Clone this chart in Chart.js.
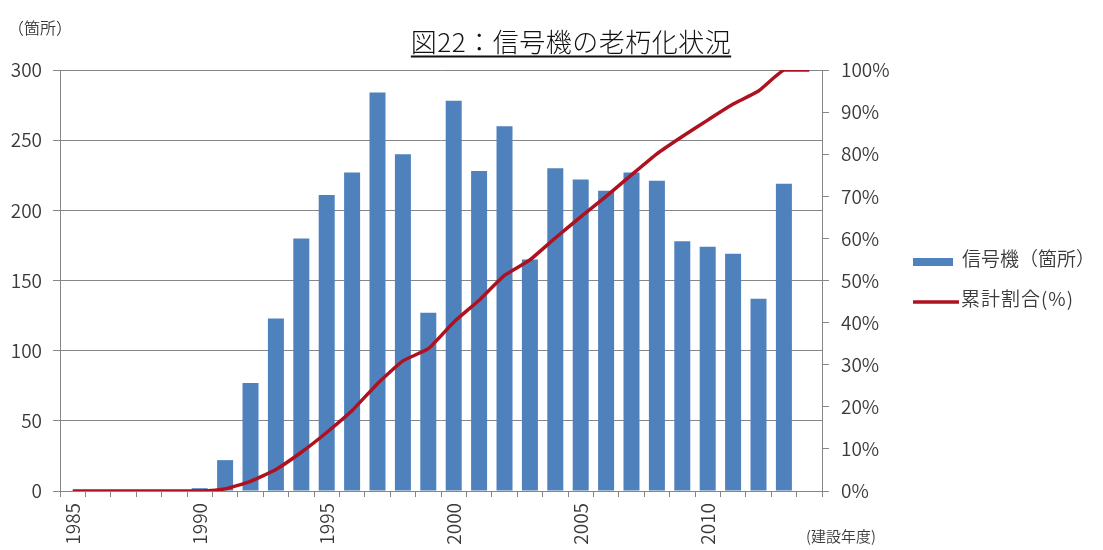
<!DOCTYPE html>
<html lang="ja">
<head>
<meta charset="utf-8">
<title>図22：信号機の老朽化状況</title>
<script src="https://cdn.jsdelivr.net/npm/chart.js@4.4.1/dist/chart.umd.min.js"></script>
<style>
  html, body { margin: 0; padding: 0; background: #fff; }
  #wrap { width: 1103px; height: 550px; position: relative; }
</style>
</head>
<body>
<div id="wrap"><canvas id="signalChart" width="1103" height="550"></canvas></div>
<script>
// 建設年度ごとの信号機設置数と累計割合
const years = [
  "1985", "1986", "1987", "1988", "1989", "1990", "1991", "1992", "1993", "1994",
  "1995", "1996", "1997", "1998", "1999", "2000", "2001", "2002", "2003", "2004",
  "2005", "2006", "2007", "2008", "2009", "2010", "2011", "2012", "2013", "2014"
];
const signalCounts = [
  0, 0, 0, 0, 0, 2, 22, 77, 123, 180,
  211, 227, 284, 240, 127, 278, 228, 260, 165, 230,
  222, 214, 227, 221, 178, 174, 169, 137, 219, null
];
const cumulativePct = [
  0, 0, 0, 0, 0, 0, 0.5, 2.3, 5.1, 9.2,
  13.9, 19.1, 25.5, 30.9, 33.8, 40.1, 45.3, 51.2, 54.9, 60.1,
  65.1, 70.0, 75.1, 80.1, 84.2, 88.1, 91.9, 95.0, 100, 100
];
const countTicks = [0, 50, 100, 150, 200, 250, 300];
const pctTicks = [0, 10, 20, 30, 40, 50, 60, 70, 80, 90, 100];

const BAR_COLOR = "#4F81BD";
const LINE_COLOR = "#AE1220";
const AXIS_COLOR = "#868686";
const TEXT_COLOR = "#3a3a3a";
const FONT = "'Noto Sans CJK JP', 'Noto Sans', sans-serif";

// タイトル・単位・凡例をキャンバスに直接描く
const decorations = {
  id: "decorations",
  afterDraw(chart) {
    const ctx = chart.ctx;
    ctx.save();

    // タイトル（下線付き）
    ctx.fillStyle = "#111";
    ctx.font = "300 26px " + FONT;
    ctx.letterSpacing = "0.5px";
    ctx.textAlign = "center";
    ctx.textBaseline = "alphabetic";
    const title = "図22：信号機の老朽化状況";
    const tx = 571;
    ctx.fillText(title, tx, 52);
    const tw = ctx.measureText(title).width;
    ctx.fillRect(tx - tw / 2, 55.5, tw, 2);
    ctx.letterSpacing = "0px";

    // 単位
    ctx.fillStyle = TEXT_COLOR;
    ctx.font = "350 16px " + FONT;
    ctx.textAlign = "left";
    ctx.textBaseline = "middle";
    ctx.fillText("（箇所）", 8, 28);
    ctx.font = "350 15px " + FONT;
    ctx.fillText("(建設年度)", 806, 536);

    // 凡例
    const bars = chart.data.datasets[1];
    const line = chart.data.datasets[0];
    ctx.fillStyle = bars.backgroundColor;
    ctx.fillRect(913, 258, 40, 8);
    ctx.strokeStyle = line.borderColor;
    ctx.lineWidth = 3.5;
    ctx.beginPath();
    ctx.moveTo(913, 302);
    ctx.lineTo(959, 302);
    ctx.stroke();
    ctx.fillStyle = TEXT_COLOR;
    ctx.font = "350 19px " + FONT;
    ctx.fillText(bars.label, 962, 259);
    ctx.letterSpacing = "1px";
    ctx.fillText(line.label, 961, 299);

    ctx.restore();
  }
};

const ctx = document.getElementById("signalChart").getContext("2d");

new Chart(ctx, {
  type: "bar",
  data: {
    labels: years,
    datasets: [
      {
        type: "line",
        label: "累計割合(%)",
        data: cumulativePct,
        yAxisID: "yPct",
        borderColor: LINE_COLOR,
        backgroundColor: LINE_COLOR,
        borderWidth: 3.5,
        pointRadius: 0,
        tension: 0.15,
        order: 1,
      },
      {
        type: "bar",
        label: "信号機（箇所）",
        data: signalCounts,
        yAxisID: "yCount",
        backgroundColor: BAR_COLOR,
        categoryPercentage: 1.0,
        barPercentage: 0.63,
        order: 2,
      },
    ],
  },
  options: {
    responsive: false,
    animation: false,
    layout: {
      padding: { top: 70, left: 0, right: 0, bottom: 0 },
    },
    plugins: {
      legend: { display: false },
      title: { display: false },
      tooltip: { enabled: false },
    },
    scales: {
      x: {
        offset: true,
        grid: {
          offset: true,
          drawOnChartArea: false,
          color: AXIS_COLOR,
          tickLength: 6,
        },
        border: { color: AXIS_COLOR },
        ticks: {
          autoSkip: false,
          minRotation: 90,
          maxRotation: 90,
          padding: 6,
          color: TEXT_COLOR,
          font: { family: FONT, size: 19, weight: 350 },
          callback(value) {
            const y = years[value];
            return Number(y) % 5 === 0 ? y : "";
          },
        },
        afterFit(scale) { scale.height = 59; },
      },
      yCount: {
        position: "left",
        min: 0,
        max: 300,
        afterBuildTicks(scale) {
          scale.ticks = countTicks.map(v => ({ value: v }));
        },
        grid: {
          color: AXIS_COLOR,
          tickLength: 7,
        },
        border: { color: AXIS_COLOR },
        ticks: {
          padding: 11,
          color: TEXT_COLOR,
          font: { family: FONT, size: 19, weight: 350 },
        },
        afterFit(scale) { scale.width = 60; },
      },
      yPct: {
        position: "right",
        min: 0,
        max: 100,
        afterBuildTicks(scale) {
          scale.ticks = pctTicks.map(v => ({ value: v }));
        },
        grid: {
          drawOnChartArea: false,
          color: AXIS_COLOR,
          tickLength: 7,
        },
        border: { color: AXIS_COLOR },
        ticks: {
          padding: 12,
          color: TEXT_COLOR,
          font: { family: FONT, size: 19, weight: 350 },
          callback(value) { return value + "%"; },
        },
        afterFit(scale) { scale.width = 281; },
      },
    },
  },
  plugins: [decorations],
});
</script>
</body>
</html>
